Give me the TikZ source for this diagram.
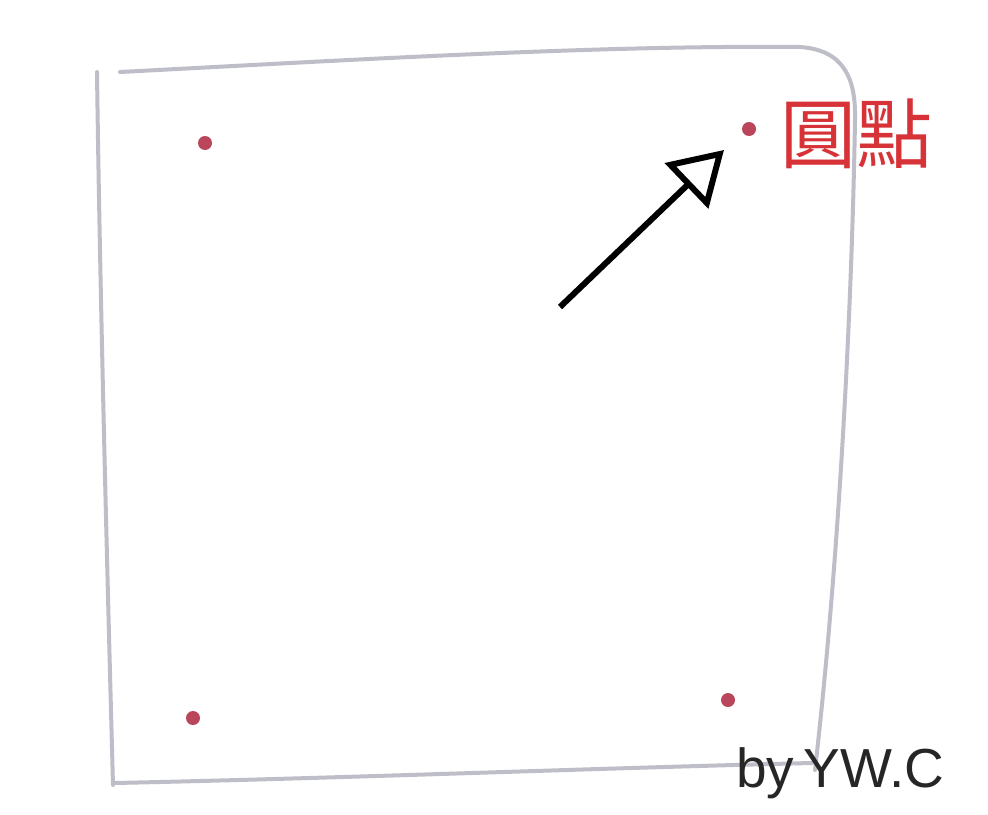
\documentclass[tikz,border=0pt]{standalone}
\usepackage{fontspec}
\setmainfont{Liberation Sans}
\newfontfamily\cjk{Noto Sans CJK TC}
\usetikzlibrary{arrows.meta}
\definecolor{pencil}{RGB}{190,190,200}
\definecolor{dotred}{RGB}{185,70,90}
\definecolor{lblred}{RGB}{215,50,55}
\begin{document}
\begin{tikzpicture}[x=1pt,y=-1pt,
  outline/.style={draw=pencil, line width=4pt, line cap=round, line join=round},
  reddot/.style={circle, fill=dotred, inner sep=0pt, minimum size=14pt},
  ptr/.style={draw=black, line width=6pt, -{Triangle[open, length=52pt, width=62pt, line width=6pt]}}]
\useasboundingbox (0,0) rectangle (988,814);
\fill[white] (0,0) rectangle (988,814);
% square outline
\draw[outline] (97,72) .. controls (100,300) and (108,600) .. (113,785);
\draw[outline] (120,72) .. controls (350,60) and (600,45) .. (800,47)
  .. controls (845,50) and (856,80) .. (855,120)
  .. controls (852,300) and (840,550) .. (815,770);
\draw[outline] (115,783) .. controls (350,778) and (600,768) .. (812,763);
% dots
\node[reddot] (d1) at (205,143) {};
\node[reddot] (d2) at (749,129) {};
\node[reddot] (d3) at (193,718) {};
\node[reddot] (d4) at (728,700) {};
% label
\node[text=lblred, font=\cjk\fontsize{76}{76}\selectfont, anchor=west, inner sep=0pt] (lbl) at (780,134) {圓點};
% arrow
\coordinate (a0) at (560,307);
\coordinate (a1) at (724,150);
\draw[ptr] (a0) -- (a1);
% signature
\node[text=black!85, font=\fontsize{55}{55}\selectfont, anchor=base west, inner sep=0pt] (sig) at (736,787) {by\,YW.C};
\end{tikzpicture}
\end{document}
